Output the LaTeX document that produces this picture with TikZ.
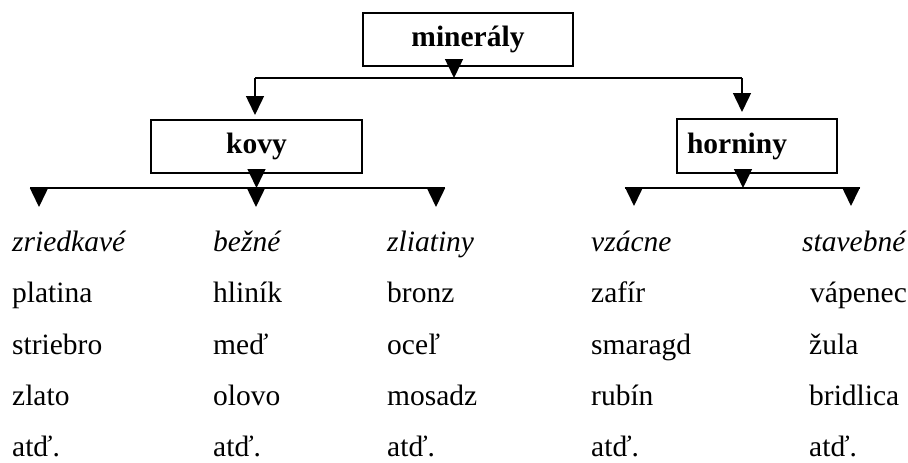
\documentclass[tikz,border=0pt]{standalone}
\usepackage{fontspec}
\setmainfont{Liberation Serif}
\usetikzlibrary{arrows.meta}
\newcommand{\txtsize}{\fontsize{29.5}{35}\selectfont}
\tikzset{
  box/.style={draw, line width=2pt, minimum height=53pt, font=\txtsize\bfseries},
  link/.style={line width=1.5pt},
  tip/.style={link, -{Triangle[width=18pt,length=19pt]}},
  leaf/.style={anchor=base west, inner sep=0pt, font=\txtsize},
  kind/.style={leaf, font=\txtsize\itshape},
}
\begin{document}
\begin{tikzpicture}[x=1pt, y=-1pt]
            \useasboundingbox (0,0) rectangle (908,463);
            % boxes
            \node[box, minimum width=210pt] (min) at (468,39.5) {minerály};
            \node[box, minimum width=211pt] (kov) at (256.5,146.5) {kovy};
            \node[box, minimum height=54pt, inner xsep=10pt, text width=140pt, align=left] (hor) at (757,146) {horniny};
            % branch points
            \coordinate (t0) at (454,78);
            \coordinate (t1) at (255,78);
            \coordinate (t2) at (742,78);
            \coordinate (kl) at (30,188);
            \coordinate (kr) at (445,188);
            \coordinate (k1) at (39,207);
            \coordinate (k2) at (256,207);
            \coordinate (k3) at (436,207);
            \coordinate (hl) at (625,188);
            \coordinate (hr) at (860,188);
            \coordinate (h0) at (743,188);
            \coordinate (h1) at (634,206);
            \coordinate (h2) at (851,206);
            % top level
            \draw[tip] (min.south -| t0) -- (t0);
            \draw[link] (t1) -- (t2);
            \draw[tip, shorten >=4pt] (t1) -- (t1 |- kov.north);
            \draw[tip, shorten >=6pt] (t2) -- (t2 |- hor.north);
            % kovy
            \draw[tip] (kov.south) -- (kov.south |- kl);
            \draw[link] (kl) -- (kr);
            \foreach \c in {k1,k2,k3}
              \draw[tip] (\c |- kl) -- (\c);
            % horniny
            \draw[tip] (hor.south -| h0) -- (h0);
            \draw[link] (hl) -- (hr);
            \foreach \c in {h1,h2}
              \draw[tip] (\c |- hl) -- (\c);
            % columns
            \node[kind] (z0) at (12,251) {zriedkavé};
            \node[leaf] (z1) at (12,302) {platina};
            \node[leaf] (z2) at (12,354) {striebro};
            \node[leaf] (z3) at (12,405) {zlato};
            \node[leaf] (z4) at (12,456) {atď.};
            \node[kind] (b0) at (213,251) {bežné};
            \node[leaf] (b1) at (213,302) {hliník};
            \node[leaf] (b2) at (213,354) {meď};
            \node[leaf] (b3) at (213,405) {olovo};
            \node[leaf] (b4) at (213,456) {atď.};
            \node[kind] (l0) at (387,251) {zliatiny};
            \node[leaf] (l1) at (387,302) {bronz};
            \node[leaf] (l2) at (387,354) {oceľ};
            \node[leaf] (l3) at (387,405) {mosadz};
            \node[leaf] (l4) at (387,456) {atď.};
            \node[kind] (v0) at (591,251) {vzácne};
            \node[leaf] (v1) at (591,302) {zafír};
            \node[leaf] (v2) at (591,354) {smaragd};
            \node[leaf] (v3) at (591,405) {rubín};
            \node[leaf] (v4) at (591,456) {atď.};
            \node[kind] (s0) at (802,251) {stavebné};
            \node[leaf] (s1) at (810,302) {vápenec};
            \node[leaf] (s2) at (809,354) {žula};
            \node[leaf] (s3) at (809,405) {bridlica};
            \node[leaf] (s4) at (809,456) {atď.};
        \end{tikzpicture}
\end{document}
